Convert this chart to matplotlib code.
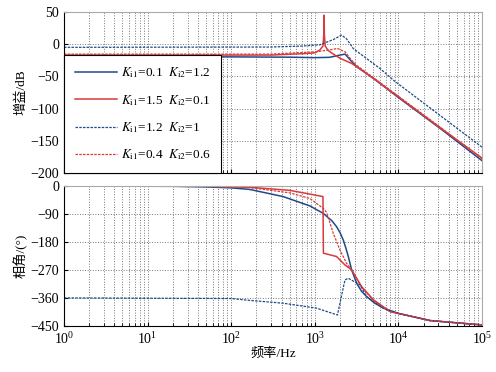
# Bode diagram: gain and phase for four Ki1/Ki2 combinations
import numpy as np
import matplotlib.pyplot as plt
from matplotlib.ticker import LogLocator, NullFormatter

plt.rcParams['font.family'] = ['Liberation Serif', 'Noto Sans CJK SC']
plt.rcParams['mathtext.fontset'] = 'stix'
plt.rcParams['axes.unicode_minus'] = True

labels = [r'$K_{\mathrm{i1}}$=0.1  $K_{\mathrm{i2}}$=1.2',
          r'$K_{\mathrm{i1}}$=1.5  $K_{\mathrm{i2}}$=0.1',
          r'$K_{\mathrm{i1}}$=1.2  $K_{\mathrm{i2}}$=1',
          r'$K_{\mathrm{i1}}$=0.4  $K_{\mathrm{i2}}$=0.6']

# gain curves (Hz, dB)
f_g1 = [1, 100, 500, 1000, 1500, 2000, 2300, 2750, 3162, 5000, 10000, 31623, 100000]
g1 = [-19.7, -19.8, -20.3, -21, -20.5, -17, -15.5, -27, -35, -53, -83, -131, -181]

f_g2 = [1, 300, 800, 1000, 1150, 1250, 1280, 1290, 1300, 1330, 1445, 1600, 2000, 2754, 3162, 5000, 10000, 31623, 100000]
g2 = [-17, -17, -14.5, -13.5, -9, -3, 15, 45, 15, -3, -10, -14, -22, -30, -35, -53, -82, -130, -177]

f_g3 = [1, 300, 700, 1150, 1660, 2090, 2400, 2884, 6026, 8710, 10000, 31623, 100000]
g3 = [-5, -4.5, -3, -1, 7, 14, 8, -7, -38, -56, -62, -111, -160]

f_g4 = [1, 300, 1000, 1500, 1860, 2300, 2754, 3162, 5000, 10000, 31623, 100000]
g4 = [-15.5, -15.5, -12, -9, -6.7, -12, -25, -33, -52, -81, -129, -178]

# phase curves (Hz, deg)
f_p1 = [1, 20, 50, 100, 166, 417, 871, 1259, 1600, 1820, 2000, 2188, 2350, 2512, 2754, 3162, 3600, 4169, 5200, 6607, 10000, 24000, 100000]
p1 = [0, -1, -3, -6, -11, -34, -64, -88, -112, -131, -150, -174, -200, -227, -270, -313, -338, -356, -377, -393, -410, -433, -447]

f_p2 = [1, 50, 166, 500, 871, 1250, 1265, 1820, 2290, 2754, 3630, 5012, 7943, 10000, 24000, 100000]
p2 = [0, -1, -4, -14, -26, -34, -216, -227, -254, -270, -324, -366, -404, -410, -433, -447]

f_p3 = [1, 100, 166, 417, 1047, 1862, 2290, 2512, 3467, 4169, 6607, 10000, 24000, 100000]
p3 = [-360, -362, -368, -377, -393, -415, -302, -297, -318, -356, -393, -410, -433, -447]

f_p4 = [1, 50, 166, 500, 871, 1259, 1380, 1660, 1995, 2400, 2754, 3630, 5012, 7943, 10000, 24000, 100000]
p4 = [0, -1, -5, -22, -40, -72, -85, -152, -206, -249, -270, -326, -368, -405, -410, -433, -447]

blue = '#1f4a8a'
red = '#d93a3c'
styles = [dict(color=blue, lw=1.1, ls='-'),
          dict(color=red, lw=1.1, ls='-'),
          dict(color=blue, lw=0.9, ls=(0, (2, 1))),
          dict(color=red, lw=0.9, ls=(0, (2, 1)))]

fig = plt.figure(figsize=(4.96, 3.72), dpi=100)
ax1 = fig.add_axes([0.129, 0.535, 0.843, 0.433])
ax2 = fig.add_axes([0.129, 0.124, 0.843, 0.376])

gains = [(f_g1, g1), (f_g2, g2), (f_g3, g3), (f_g4, g4)]
phases = [(f_p1, p1), (f_p2, p2), (f_p3, p3), (f_p4, p4)]
for (fg, g), (fp, p), st, lab in zip(gains, phases, styles, labels):
    ax1.plot(fg, g, label=lab, **st)
    ax2.plot(fp, p, **st)

for ax in (ax1, ax2):
    ax.set_xscale('log')
    ax.set_xlim(1, 1e5)
    ax.xaxis.set_major_locator(LogLocator(base=10, numticks=10))
    ax.xaxis.set_minor_locator(LogLocator(base=10, subs=np.arange(2, 10), numticks=20))
    ax.xaxis.set_minor_formatter(NullFormatter())
    ax.grid(True, which='major', color='#777777', ls=':', lw=0.7)
    ax.grid(True, which='minor', axis='x', color='#777777', ls=':', lw=0.7)
    ax.tick_params(which='both', direction='in', labelsize=10)
    ax.tick_params(which='major', length=3)
    ax.tick_params(which='minor', length=2)
    ax.spines['top'].set_color('#aaaaaa')
    ax.spines['right'].set_color('#aaaaaa')
    ax.spines['left'].set_linewidth(0.8)
    ax.spines['bottom'].set_linewidth(0.8)

ax1.set_ylim(-200, 50)
ax1.set_yticks([50, 0, -50, -100, -150, -200])
ax1.tick_params(labelbottom=False)
ax1.set_ylabel('增益/dB', fontsize=9.5, labelpad=2)

ax2.set_ylim(-450, 0)
ax2.set_yticks([0, -90, -180, -270, -360, -450])
ax2.set_ylabel('相角/(°)', fontsize=9.5, labelpad=2)
ax2.set_xlabel('频率/Hz', fontsize=9.5, labelpad=1)

leg = ax1.legend(loc='lower left', bbox_to_anchor=(0, 0), borderaxespad=0,
                 fontsize=9.5, fancybox=False, edgecolor='black', framealpha=1,
                 handlelength=3.2, handletextpad=0.3, labelspacing=0.95,
                 borderpad=0.8)
leg.get_frame().set_linewidth(0.8)

fig.savefig('out.png', dpi=100)
